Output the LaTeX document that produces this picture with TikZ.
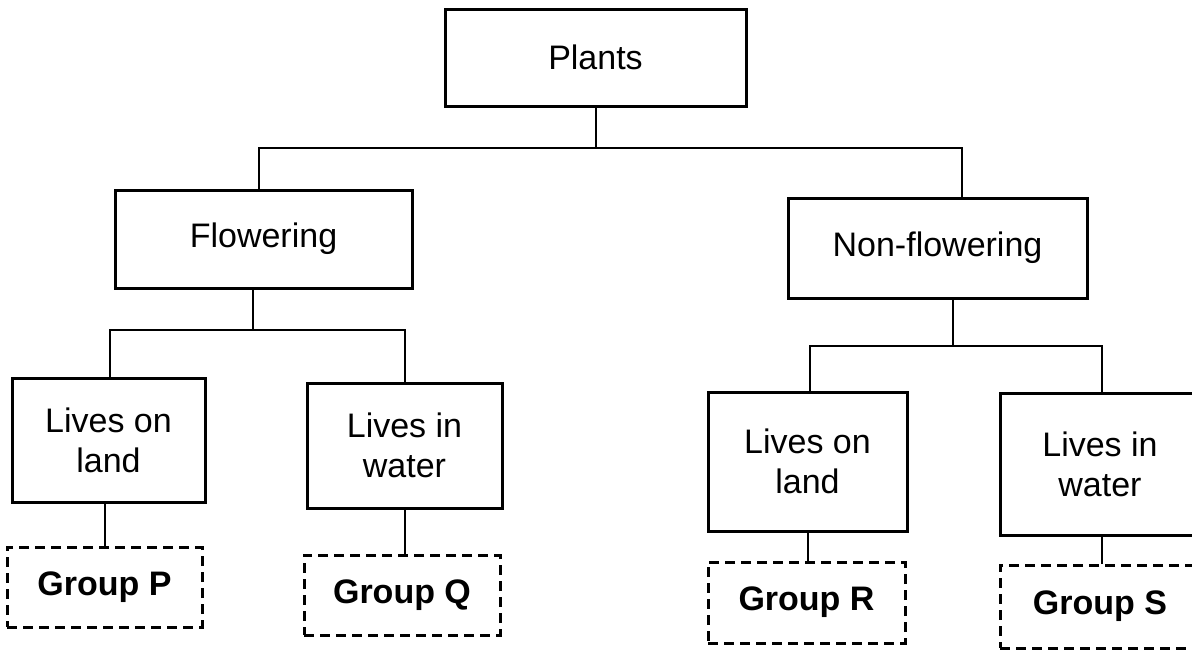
\documentclass[tikz,border=0pt]{standalone}
\usepackage{fontspec}
\setmainfont{Liberation Sans}
\begin{document}
\begin{tikzpicture}[x=1pt,y=-1pt,
  line width=3pt,
  box/.style={draw, rectangle, align=center, inner sep=0pt,
    font=\fontsize{34}{40}\selectfont},
  groupbox/.style={draw, rectangle, align=center, inner sep=0pt,
    dash pattern=on 10pt off 6pt,
    font=\fontsize{34}{40}\selectfont\bfseries},
  link/.style={draw, line width=2.8pt}]
\useasboundingbox (0,0) rectangle (1192,649);
\clip (0,0) rectangle (1192,649);

% top level
\node[box, minimum width=301, minimum height=97] (plants) at (595.5,57.5) {Plants};

% second level
\node[box, minimum width=297, minimum height=98] (flow) at (263.5,239) {Flowering};
\node[box, minimum width=299, minimum height=100] (nonflow) at (937.5,248) {Non-flowering};

% third level
\node[box, minimum width=193, minimum height=124] (landP) at (108.5,440) {Lives on\\land};
\node[box, minimum width=195, minimum height=125] (waterQ) at (404.5,445.5) {Lives in\\water};
\node[box, minimum width=199, minimum height=139] (landR) at (807.5,461.5) {Lives on\\land};
\node[box, minimum width=200, minimum height=142] (waterS) at (1100,464) {Lives in\\water};

% groups
\node[groupbox, minimum width=195, minimum height=80] (groupP) at (104.5,587) {Group P};
\node[groupbox, minimum width=196, minimum height=80] (groupQ) at (402,595) {Group Q};
\node[groupbox, minimum width=197, minimum height=81] (groupR) at (806.5,602.5) {Group R};
\node[groupbox, minimum width=200, minimum height=83] (groupS) at (1100,606.5) {Group S};

% junction points of the branching lines
\coordinate (j0) at (596,148);
\coordinate (j1) at (253,330);
\coordinate (j2) at (953,346);

% Plants -> Flowering / Non-flowering
\draw[link] ([xshift=0.5]plants.south) -- (j0);
\draw[link] (j0) -| ([xshift=-4.5]flow.north);
\draw[link] (j0) -| ([xshift=24.5]nonflow.north);

% Flowering -> habitats
\draw[link] ([xshift=-10.5]flow.south) -- (j1);
\draw[link] (j1) -| ([xshift=1.5]landP.north);
\draw[link] (j1) -| ([xshift=0.5]waterQ.north);

% Non-flowering -> habitats
\draw[link] ([xshift=15.5]nonflow.south) -- (j2);
\draw[link] (j2) -| ([xshift=2.5]landR.north);
\draw[link] (j2) -| ([xshift=2]waterS.north);

% habitats -> groups
\draw[link] ([xshift=-3.5]landP.south) -- ([xshift=-3.5]landP.south |- groupP.north);
\draw[link] ([xshift=0.5]waterQ.south) -- ([xshift=0.5]waterQ.south |- groupQ.north);
\draw[link] ([xshift=0.5]landR.south) -- ([xshift=0.5]landR.south |- groupR.north);
\draw[link] ([xshift=2]waterS.south) -- ([xshift=2]waterS.south |- groupS.north);
\end{tikzpicture}
\end{document}
